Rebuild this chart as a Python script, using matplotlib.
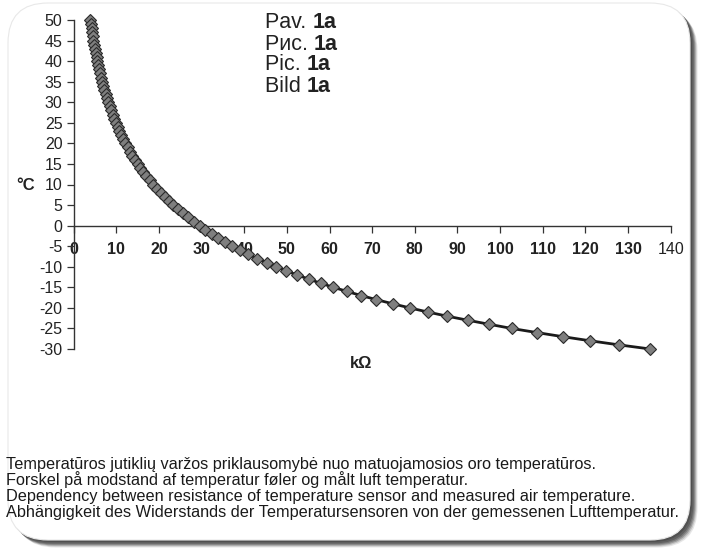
import matplotlib
matplotlib.use("Agg")
import matplotlib.pyplot as plt
from matplotlib.patches import FancyBboxPatch

plt.rcParams['font.family'] = ['Liberation Sans', 'DejaVu Sans']

# Data: temperature (°C) vs sensor resistance (kΩ)
temperature_c = list(range(50, -31, -1))
resistance_kohm = [
    3.90, 4.04, 4.18, 4.33, 4.48, 4.64, 4.81, 4.98, 5.17, 5.36,   # 50..41
    5.55, 5.76, 5.98, 6.20, 6.44, 6.69, 6.94, 7.21, 7.49, 7.79,   # 40..31
    8.10, 8.42, 8.76, 9.11, 9.48, 9.87, 10.28, 10.70, 11.15, 11.62,  # 30..21
    12.11, 12.63, 13.17, 13.74, 14.34, 14.97, 15.63, 16.32, 17.06, 17.83,  # 20..11
    18.64, 19.49, 20.39, 21.34, 22.34, 23.39, 24.50, 25.67, 26.91, 28.22,  # 10..1
    29.6,                                                          # 0
    30.9, 32.4, 33.9, 35.5, 37.2, 39.0, 40.9, 43.1, 45.3, 47.5,   # -1..-10
    49.9, 52.4, 55.1, 57.9, 60.9, 64.1, 67.4, 71.0, 74.8, 78.8,   # -11..-20
    83.0, 87.5, 92.4, 97.5, 102.7, 108.6, 114.7, 121.1, 127.9, 135.2,  # -21..-30
]
x_ticks = list(range(0, 141, 10))
y_ticks = list(range(-30, 51, 5))
title_lines = [("Pav. ", "1a"), ("Рис. ", "1a"), ("Pic. ", "1a"), ("Bild ", "1a")]
caption_lines = [
    "Temperatūros jutiklių varžos priklausomybė nuo matuojamosios oro temperatūros.",
    "Forskel på modstand af temperatur føler og målt luft temperatur.",
    "Dependency between resistance of temperature sensor and measured air temperature.",
    "Abhängigkeit des Widerstands der Temperatursensoren von der gemessenen Lufttemperatur.",
]

W, H = 701, 550
fig = plt.figure(figsize=(W / 100, H / 100), dpi=100)
fig.patch.set_facecolor('white')

# background frame in pixel coordinates
bg = fig.add_axes([0, 0, 1, 1], zorder=-5)
bg.set_xlim(0, W)
bg.set_ylim(H, 0)
bg.axis('off')
BX, BY, BW, BH, R = 8, 3, 682, 537, 40
for off, col in [(7.5, '#e6e6e6'), (6.5, '#c4c4c4'), (5.5, '#9a9a9a'),
                 (4.5, '#7a7a7a'), (3.5, '#606060'), (2.0, '#505050')]:
    bg.add_patch(FancyBboxPatch((BX + off, BY + off), BW, BH,
                                boxstyle=f"round,pad=0,rounding_size={R}",
                                facecolor=col, edgecolor='none'))
bg.add_patch(FancyBboxPatch((BX, BY), BW, BH,
                            boxstyle=f"round,pad=0,rounding_size={R}",
                            facecolor='white', edgecolor='#e8e8e8', linewidth=0.8))

# main axes
left = 73.7 / W
right = 670.7 / W
top = 1 - 20.0 / H
bottom = 1 - 349.0 / H
ax = fig.add_axes([left, bottom, right - left, top - bottom])
ax.set_facecolor('none')
ax.set_xlim(0, 140)
ax.set_ylim(-30, 50)

ax.plot(resistance_kohm, temperature_c, color='#1a1a1a', linewidth=2.0,
        marker='D', markersize=6.3, markerfacecolor='#7f7f7f',
        markeredgecolor='#2a2a2a', markeredgewidth=0.8, clip_on=False, zorder=3)

for s in ['top', 'right']:
    ax.spines[s].set_visible(False)
ax.spines['left'].set_position(('data', 0))
ax.spines['bottom'].set_position(('data', 0))
for s in ['left', 'bottom']:
    ax.spines[s].set_color('#333333')
    ax.spines[s].set_linewidth(1.0)

ax.set_xticks(x_ticks)
ax.set_yticks(y_ticks)
ax.set_xticklabels([str(v) for v in x_ticks])
ax.set_yticklabels([str(v) for v in y_ticks])
ax.tick_params(axis='both', direction='out', length=5, width=0.9, color='#333333',
               labelsize=11.5, labelcolor='#222222')
ax.tick_params(axis='x', pad=7)
ax.tick_params(axis='y', pad=3)
for lbl in ax.get_xticklabels()[:-1]:
    lbl.set_fontweight('bold')

# axis labels
fig.text(26 / W, 1 - 186 / H, "°C", fontsize=12, fontweight='bold', color='#222222',
         ha='center', va='center')
fig.text(361 / W, 1 - 363 / H, "kΩ", fontsize=12, fontweight='bold', color='#222222',
         ha='center', va='center')

# title block
for i, (a, b) in enumerate(title_lines):
    y = 1 - (23 + 21 * i) / H
    t = fig.text(265 / W, y, a, fontsize=15.5, color='#222222', ha='left', va='center')
    fig.canvas.draw()
    bb = t.get_window_extent()
    fig.text(bb.x1 / W, y, b, fontsize=15.5, fontweight='bold', color='#222222',
             ha='left', va='center')

# caption
for i, line in enumerate(caption_lines):
    fig.text(6 / W, 1 - (464 + 16 * i) / H, line, fontsize=11.7, color='#1a1a1a',
             ha='left', va='center')

fig.savefig("out.png", dpi=100, facecolor='white')
